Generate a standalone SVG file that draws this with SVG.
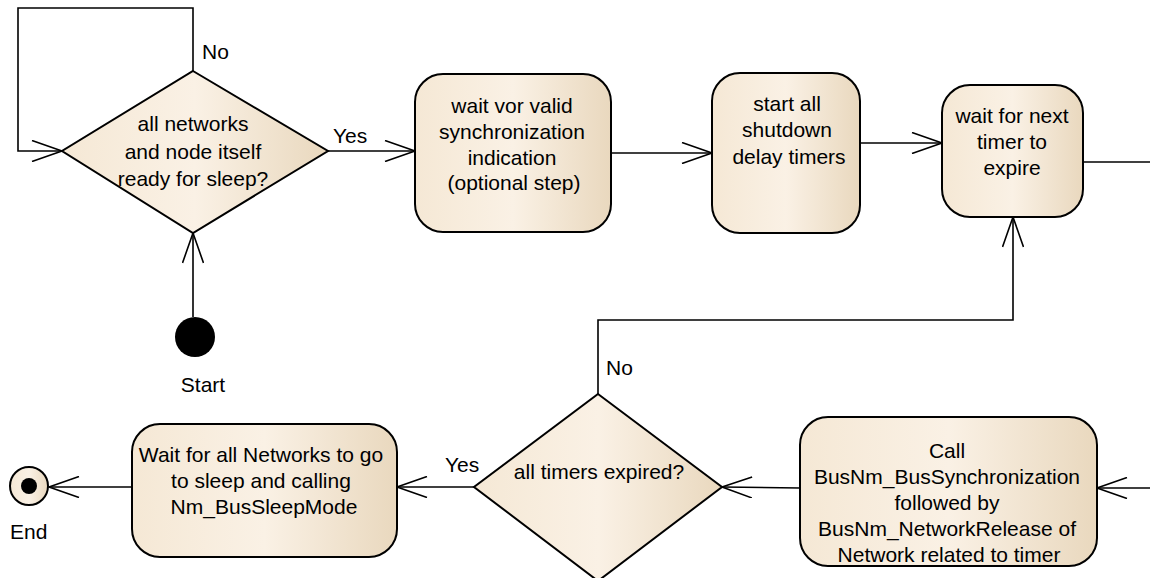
<svg xmlns="http://www.w3.org/2000/svg" width="1150" height="578" viewBox="0 0 1150 578">
  <style>
    .node { stroke: #000; stroke-width: 2; fill: url(#cream); }
    .conn { fill: none; stroke: #000; stroke-width: 1.6; }
    .arr { marker-end: url(#open); }
    text { font-family: "Liberation Sans", Arial, sans-serif; font-size: 21px; fill: #000; }
    .c { text-anchor: middle; }
  </style>
  <defs>
    <linearGradient id="cream" x1="0" y1="0" x2="1" y2="0">
      <stop offset="0" stop-color="#f5e8d5"/>
      <stop offset="0.5" stop-color="#faf1e5"/>
      <stop offset="1" stop-color="#e9d8be"/>
    </linearGradient>
    <marker id="open" markerUnits="userSpaceOnUse" viewBox="0 0 32 22" refX="31" refY="11" markerWidth="32" markerHeight="22" orient="auto">
      <path d="M1,0.5 L31,11 L1,21.5" fill="none" stroke="#000" stroke-width="1.6"/>
    </marker>
  </defs>

  <!-- connectors -->
  <g id="connectors">
    <path class="conn arr" d="M193,71 V8 H18 V151 H62"/>
    <path class="conn arr" d="M328,151 H415"/>
    <path class="conn arr" d="M611,153 H712"/>
    <path class="conn arr" d="M861,143 H942"/>
    <path class="conn" d="M1083,162 H1150"/>
    <path class="conn arr" d="M1150,488 H1097"/>
    <path class="conn arr" d="M800,488 L722,487"/>
    <path class="conn arr" d="M598,394 V320 H1013 V217"/>
    <path class="conn arr" d="M474,487 H397"/>
    <path class="conn arr" d="M132,487 H49"/>
    <path class="conn arr" d="M193,317 V233"/>
    <text x="202" y="59">No</text>
    <text x="333" y="143">Yes</text>
    <text x="606" y="375">No</text>
    <text x="445" y="472">Yes</text>
  </g>

  <!-- start -->
  <g id="start">
    <circle cx="195" cy="337" r="20" fill="#000"/>
    <text class="c" x="203" y="392">Start</text>
  </g>

  <!-- decision: ready for sleep -->
  <g id="readyForSleep">
    <polygon class="node" points="193,71 328,151 193,233 62,151"/>
    <text class="c" x="193" y="131">all networks</text>
    <text class="c" x="193" y="159">and node itself</text>
    <text class="c" x="193" y="186">ready for sleep?</text>
  </g>

  <g id="waitSync">
    <rect class="node" x="415" y="74" width="196" height="158" rx="28"/>
    <text class="c" x="512" y="113">wait vor valid</text>
    <text class="c" x="512" y="139">synchronization</text>
    <text class="c" x="512" y="165">indication</text>
    <text class="c" x="514" y="190">(optional step)</text>
  </g>

  <g id="startTimers">
    <rect class="node" x="712" y="73" width="148" height="160" rx="28"/>
    <text class="c" x="787" y="111">start all</text>
    <text class="c" x="787" y="137">shutdown</text>
    <text class="c" x="789" y="164">delay timers</text>
  </g>

  <g id="waitNextTimer">
    <rect class="node" x="942" y="85" width="141" height="132" rx="28"/>
    <text class="c" x="1012" y="123">wait for next</text>
    <text class="c" x="1012" y="149">timer to</text>
    <text class="c" x="1012" y="175">expire</text>
  </g>

  <g id="callRelease">
    <rect class="node" x="800" y="417" width="297" height="149" rx="28"/>
    <text class="c" x="947" y="458">Call</text>
    <text class="c" x="947" y="484">BusNm_BusSynchronization</text>
    <text class="c" x="947" y="510">followed by</text>
    <text class="c" x="947" y="536">BusNm_NetworkRelease of</text>
    <text class="c" x="949" y="562">Network related to timer</text>
  </g>

  <g id="allExpired">
    <polygon class="node" points="598,394 722,487 598,581 474,487"/>
    <text class="c" x="599" y="479">all timers expired?</text>
  </g>

  <g id="waitBusSleep">
    <rect class="node" x="132" y="424" width="265" height="133" rx="28"/>
    <text class="c" x="261" y="462">Wait for all Networks to go</text>
    <text class="c" x="261" y="488">to sleep and calling</text>
    <text class="c" x="264" y="514">Nm_BusSleepMode</text>
  </g>

  <g id="end">
    <circle cx="29" cy="486" r="19" class="node"/>
    <circle cx="29" cy="486" r="8" fill="#000"/>
    <text x="10" y="539">End</text>
  </g>
</svg>
